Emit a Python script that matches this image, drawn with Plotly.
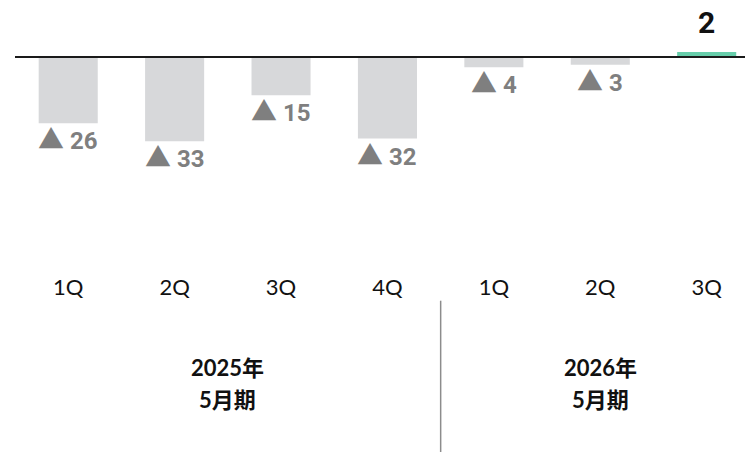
import plotly.graph_objects as go

# Quarterly operating income (100M yen); negatives are shown with ▲
quarters = ["1Q", "2Q", "3Q", "4Q", "1Q", "2Q", "3Q"]
operating_income = [-26, -33, -15, -32, -4, -3, 2]
fiscal_years = ["2025年", "2026年"]
fiscal_suffix = ["5月期", "5月期"]
year_first_last = [(0, 3), (4, 6)]

pos = list(range(len(quarters)))
bar_colors = ["#66CDAA" if v > 0 else "#D7D8DA" for v in operating_income]

fig = go.Figure(
    go.Bar(
        x=pos,
        y=operating_income,
        width=0.555,
        marker=dict(color=bar_colors, line=dict(width=0)),
        hoverinfo="skip",
    )
)

label_font = "Roboto, 'Noto Sans CJK JP', sans-serif"
tri = "<span style=\"font-family:'Noto Sans CJK JP';font-size:26px\">▲</span>"
annotations = []
for i, v in enumerate(operating_income):
    if v < 0:
        annotations.append(dict(
            x=i, y=v, xref="x", yref="y", text=f"{tri} {abs(v)}", showarrow=False,
            yanchor="top", yshift=6,
            font=dict(family=label_font, size=24, color="#7F7F7F", weight="bold"),
        ))
    else:
        annotations.append(dict(
            x=i, y=v, xref="x", yref="y", text=str(v), showarrow=False,
            yanchor="bottom", yshift=10,
            font=dict(family=label_font, size=30, color="#111111", weight="bold"),
        ))

group_font = dict(family="Lato, 'Noto Sans CJK JP', sans-serif", size=22,
                  color="#111111", weight="bold")
for name, suffix, (a, b) in zip(fiscal_years, fiscal_suffix, year_first_last):
    xc = (a + b) / 2
    annotations.append(dict(x=xc, y=-0.362, xref="x", yref="paper", text=name,
                            showarrow=False, yanchor="middle", font=group_font))
    annotations.append(dict(x=xc, y=-0.481, xref="x", yref="paper", text=suffix,
                            showarrow=False, yanchor="middle", font=group_font))

shapes = [
    # baseline at zero
    dict(type="line", xref="paper", yref="y", x0=0, x1=1, y0=0, y1=0,
         line=dict(color="#1A1A1A", width=2), layer="above"),
    # divider between fiscal years
    dict(type="line", xref="x", yref="paper",
         x0=year_first_last[0][1] + 0.5, x1=year_first_last[0][1] + 0.5,
         y0=-0.1137, y1=-0.674, line=dict(color="#8C8C8C", width=1.5)),
]

fig.update_layout(
    width=745, height=452,
    margin=dict(l=15, r=0, t=0, b=182),
    paper_bgcolor="white", plot_bgcolor="white",
    showlegend=False,
    annotations=annotations,
    shapes=shapes,
    xaxis=dict(
        range=[-0.5, 6.36], tickmode="array", tickvals=pos, ticktext=quarters,
        showgrid=False, zeroline=False, showline=False, ticks="",
        ticklabelstandoff=2,
        tickfont=dict(family="Lato, sans-serif", size=22, color="#111111"),
        fixedrange=True,
    ),
    yaxis=dict(range=[-83.53, 22.35], visible=False, fixedrange=True),
)

fig.write_html("out.html")
